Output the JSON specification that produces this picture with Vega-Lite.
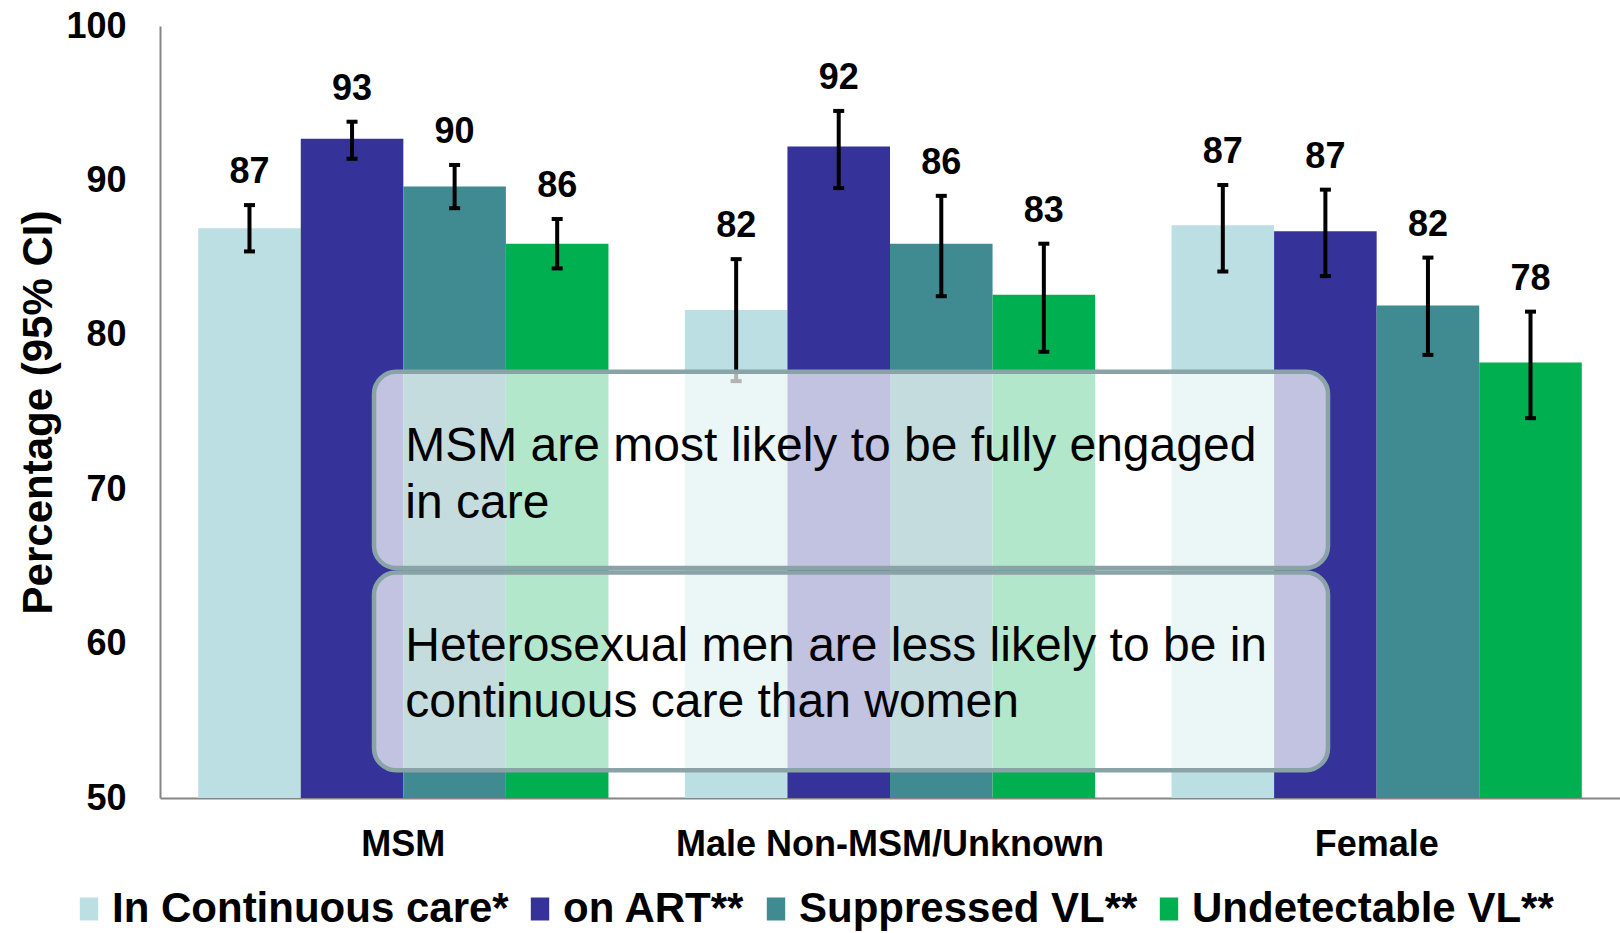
{
  "$schema": "https://vega.github.io/schema/vega-lite/v6.json",
  "width": 1460,
  "height": 772,
  "autosize": {"type": "none"},
  "padding": {"left": 160, "top": 26, "right": 0, "bottom": 135},
  "background": "white",
  "config": {
    "view": {"stroke": null},
    "font": "Liberation Sans",
    "legend": {
      "orient": "none",
      "legendX": -92,
      "legendY": 862,
      "direction": "horizontal",
      "labelFontSize": 42,
      "labelFontWeight": "bold",
      "labelColor": "black",
      "labelLimit": 1000,
      "labelOffset": 2,
      "columnPadding": 10,
      "symbolType": "M-0.8,-1H0.8V1H-0.8Z",
      "symbolSize": 529,
      "symbolStrokeWidth": 0,
      "symbolOpacity": 1
    }
  },
  "datasets": {
    "bars": [
      {"group": "MSM", "series": "In Continuous care*", "value": 86.9, "lower": 85.4, "upper": 88.4},
      {"group": "MSM", "series": "on ART**", "value": 92.7, "lower": 91.4, "upper": 93.8},
      {"group": "MSM", "series": "Suppressed VL**", "value": 89.6, "lower": 88.2, "upper": 91.0},
      {"group": "MSM", "series": "Undetectable VL**", "value": 85.9, "lower": 84.3, "upper": 87.5},
      {"group": "Male Non-MSM/Unknown", "series": "In Continuous care*", "value": 81.6, "lower": 77.0, "upper": 84.9},
      {"group": "Male Non-MSM/Unknown", "series": "on ART**", "value": 92.2, "lower": 89.5, "upper": 94.5},
      {"group": "Male Non-MSM/Unknown", "series": "Suppressed VL**", "value": 85.9, "lower": 82.5, "upper": 89.0},
      {"group": "Male Non-MSM/Unknown", "series": "Undetectable VL**", "value": 82.6, "lower": 78.9, "upper": 85.9},
      {"group": "Female", "series": "In Continuous care*", "value": 87.1, "lower": 84.1, "upper": 89.7},
      {"group": "Female", "series": "on ART**", "value": 86.7, "lower": 83.8, "upper": 89.4},
      {"group": "Female", "series": "Suppressed VL**", "value": 81.9, "lower": 78.7, "upper": 85.0},
      {"group": "Female", "series": "Undetectable VL**", "value": 78.2, "lower": 74.6, "upper": 81.5}
    ],
    "boxes": [
      {"x": 0.1466, "x2": 0.8, "y": 77.6, "y2": 64.9},
      {"x": 0.1466, "x2": 0.8, "y": 64.6, "y2": 51.8}
    ],
    "notes": [
      {"x": 0.168, "y": 72.75, "t": "MSM are most likely to be fully engaged"},
      {"x": 0.168, "y": 69.05, "t": "in care"},
      {"x": 0.168, "y": 59.8, "t": "Heterosexual men are less likely to be in"},
      {"x": 0.168, "y": 56.15, "t": "continuous care than women"}
    ]
  },
  "layer": [
    {
      "data": {"name": "bars"},
      "encoding": {
        "x": {
          "field": "group",
          "type": "nominal",
          "sort": ["MSM", "Male Non-MSM/Unknown", "Female"],
          "scale": {"paddingInner": 0.157, "paddingOuter": 0.0785},
          "axis": {
            "title": null,
            "labelAngle": 0,
            "labelFontSize": 36,
            "labelFontWeight": "bold",
            "labelColor": "black",
            "labelPadding": 29,
            "ticks": false,
            "domainColor": "#868686",
            "domainWidth": 2,
            "labelLimit": 1000
          }
        },
        "xOffset": {
          "field": "series",
          "type": "nominal",
          "sort": ["In Continuous care*", "on ART**", "Suppressed VL**", "Undetectable VL**"],
          "scale": {"paddingInner": 0, "paddingOuter": 0}
        }
      },
      "layer": [
        {
          "mark": {"type": "bar"},
          "encoding": {
            "y": {
              "field": "value",
              "type": "quantitative",
              "title": "Percentage (95% CI)",
              "scale": {"domain": [50, 100], "zero": false, "nice": false},
              "axis": {
                "values": [50, 60, 70, 80, 90, 100],
                "labelFontSize": 36,
                "labelFontWeight": "bold",
                "labelColor": "black",
                "labelPadding": 34,
                "ticks": false,
                "grid": false,
                "domainColor": "#868686",
                "domainWidth": 2,
                "titleFontSize": 42,
                "titleFontWeight": "bold",
                "titleColor": "black",
                "titlePadding": 5
              }
            },
            "y2": {"datum": 50},
            "color": {
              "field": "series",
              "type": "nominal",
              "title": null,
              "sort": ["In Continuous care*", "on ART**", "Suppressed VL**", "Undetectable VL**"],
              "scale": {
                "domain": ["In Continuous care*", "on ART**", "Suppressed VL**", "Undetectable VL**"],
                "range": ["#BBDFE2", "#35339A", "#3F8B91", "#00AF50"]
              }
            }
          }
        },
        {
          "mark": {"type": "rule", "strokeWidth": 4, "color": "black"},
          "encoding": {
            "y": {"field": "lower", "type": "quantitative", "title": "Percentage (95% CI)"},
            "y2": {"field": "upper"}
          }
        },
        {
          "mark": {"type": "tick", "orient": "horizontal", "size": 11, "thickness": 4, "color": "black", "opacity": 1},
          "encoding": {
            "y": {"field": "lower", "type": "quantitative", "title": "Percentage (95% CI)"}
          }
        },
        {
          "mark": {"type": "tick", "orient": "horizontal", "size": 11, "thickness": 4, "color": "black", "opacity": 1},
          "encoding": {
            "y": {"field": "upper", "type": "quantitative", "title": "Percentage (95% CI)"}
          }
        },
        {
          "mark": {"type": "text", "fontSize": 36, "fontWeight": "bold", "color": "black", "baseline": "alphabetic", "dy": -22},
          "encoding": {
            "y": {"field": "upper", "type": "quantitative", "title": "Percentage (95% CI)"},
            "text": {"field": "value", "type": "quantitative", "format": ".0f"}
          }
        }
      ]
    },
    {
      "layer": [
        {
          "data": {"name": "boxes"},
          "mark": {"type": "rect", "fill": "white", "fillOpacity": 0.7, "stroke": "#8AA3A6", "strokeWidth": 4.5, "cornerRadius": 22},
          "encoding": {
            "x": {"field": "x", "type": "quantitative", "scale": {"domain": [0, 1]}, "axis": null},
            "x2": {"field": "x2"},
            "y": {"field": "y", "type": "quantitative", "title": "Percentage (95% CI)"},
            "y2": {"field": "y2"}
          }
        },
        {
          "data": {"name": "notes"},
          "mark": {"type": "text", "align": "left", "baseline": "middle", "fontSize": 48, "color": "black"},
          "encoding": {
            "x": {"field": "x", "type": "quantitative", "scale": {"domain": [0, 1]}, "axis": null},
            "y": {"field": "y", "type": "quantitative", "title": "Percentage (95% CI)"},
            "text": {"field": "t"}
          }
        }
      ]
    }
  ],
  "resolve": {"scale": {"x": "independent"}, "axis": {"x": "independent"}}
}
